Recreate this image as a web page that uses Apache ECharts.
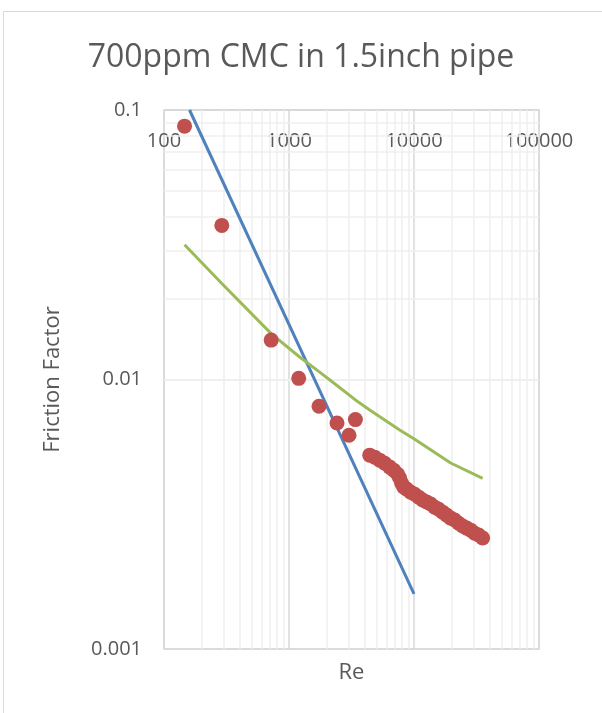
<!DOCTYPE html>
<html>
<head>
<meta charset="utf-8">
<script src="https://cdn.jsdelivr.net/npm/echarts@6/dist/echarts.min.js"></script>
<style>
html,body{margin:0;padding:0;background:#fff;}
#chart{width:602px;height:713px;}
</style>
</head>
<body>
<div id="chart"></div>
<script>
// ---- data ----
var titleText = '700ppm CMC in 1.5inch pipe';
var xAxisTitle = 'Re';
var yAxisTitle = 'Friction Factor';

// measured friction factor (red markers)
var reMeasured = [146, 290, 720, 1196, 1738, 2421, 3020, 3398, 4423, 4849, 5316, 5829, 6391, 6879, 7405, 7682, 7970, 8270, 8743, 9411, 10130, 10904, 11737, 12634, 13599, 14638, 15757, 16961, 18257, 19652, 21154, 22770, 24510, 26383, 28399, 30568, 32904, 35418];
var fMeasured = [0.0871, 0.0373, 0.0140, 0.0101, 0.00796, 0.0069, 0.00621, 0.0071, 0.00524, 0.00515, 0.00502, 0.00489, 0.00473, 0.00461, 0.00445, 0.00431, 0.00412, 0.00399, 0.00392, 0.00382, 0.00375, 0.00366, 0.00357, 0.00351, 0.00345, 0.00336, 0.00330, 0.00322, 0.00314, 0.00306, 0.00301, 0.00293, 0.00286, 0.00281, 0.00276, 0.00269, 0.00265, 0.00258];

// turbulent correlation (green line)
var reTurb = [146, 290, 720, 1196, 1738, 2421, 3398, 4423, 7682, 10130, 19652, 35418];
var fTurb = [0.0316, 0.0227, 0.0148, 0.0122, 0.0107, 0.0095, 0.0084, 0.0077, 0.0065, 0.0060, 0.0049, 0.0043];

// laminar line (blue)
var reLam = [160, 10000];
var fLam = [0.1, 0.0016];

// axis ranges and minor gridline values
var xMin = 100, xMax = 100000;
var yMin = 0.001, yMax = 0.1;
var xMinorLines = [200,300,400,500,600,700,800,900,2000,3000,4000,5000,6000,7000,8000,9000,20000,30000,40000,50000,60000,70000,80000,90000];
var yMinorLines = [0.002,0.003,0.004,0.005,0.006,0.007,0.008,0.009,0.02,0.03,0.04,0.05,0.06,0.07,0.08,0.09];

function zip(a, b) { return a.map(function (v, i) { return [v, b[i]]; }); }
function plain(v) { return String(+v.toPrecision(6)); }

var FONT = '"Open Sans", sans-serif';
var TXT = '#595959';

var chart = echarts.init(document.getElementById('chart'), null, {renderer: 'canvas'});
chart.setOption({
  backgroundColor: '#ffffff',
  animation: false,
  title: {
    text: titleText,
    left: 'center',
    top: 37,
    textStyle: {fontFamily: FONT, fontSize: 32, fontWeight: 'normal', color: TXT}
  },
  graphic: [{
    type: 'rect',
    shape: {x: 3.5, y: 11.5, width: 620, height: 720},
    style: {fill: 'none', stroke: '#d9d9d9', lineWidth: 1},
    silent: true, z: -10
  }],
  grid: {
    left: 164, right: 63, top: 110, bottom: 64,
    show: true, borderColor: '#d9d9d9', borderWidth: 1.5, backgroundColor: 'transparent'
  },
  xAxis: [{
    type: 'log', logBase: 10, min: xMin, max: xMax, position: 'top',
    axisLine: {show: false}, axisTick: {show: false},
    axisLabel: {inside: true, margin: 21, fontFamily: FONT, fontSize: 20, color: TXT, formatter: plain},
    splitLine: {show: true, lineStyle: {color: '#d9d9d9', width: 1.5}}
  }, {
    type: 'log', logBase: 10, min: xMin, max: xMax, position: 'bottom',
    axisLine: {show: false}, axisTick: {show: false}, axisLabel: {show: false}, splitLine: {show: false},
    name: xAxisTitle, nameLocation: 'middle', nameGap: 13,
    nameTextStyle: {fontFamily: FONT, fontSize: 22, color: TXT}
  }],
  yAxis: {
    type: 'log', logBase: 10, min: yMin, max: yMax,
    axisLine: {show: false}, axisTick: {show: false},
    axisLabel: {margin: 22, fontFamily: FONT, fontSize: 20, color: TXT, formatter: plain},
    splitLine: {show: true, lineStyle: {color: '#d9d9d9', width: 1.5}},
    name: yAxisTitle, nameLocation: 'middle', nameRotate: 90, nameGap: 100,
    nameTextStyle: {fontFamily: FONT, fontSize: 22, color: TXT}
  },
  series: [{
    type: 'line', data: [], z: 1, silent: true,
    markLine: {
      silent: true, symbol: 'none', label: {show: false}, z: 1,
      lineStyle: {color: '#efefef', width: 1.5, type: 'solid'},
      animation: false,
      data: xMinorLines.map(function (v) { return {xAxis: v}; })
        .concat(yMinorLines.map(function (v) { return {yAxis: v}; }))
    }
  }, {
    name: 'Laminar', type: 'line', data: zip(reLam, fLam),
    showSymbol: false, lineStyle: {color: '#4f81bd', width: 3}, z: 3
  }, {
    name: 'Turbulent', type: 'line', data: zip(reTurb, fTurb),
    showSymbol: false, lineStyle: {color: '#9bbb59', width: 3}, z: 3
  }, {
    name: 'Measured', type: 'scatter', data: zip(reMeasured, fMeasured),
    symbol: 'circle', symbolSize: 15, itemStyle: {color: '#c0504d', opacity: 1}, z: 4
  }]
});
</script>
</body>
</html>
